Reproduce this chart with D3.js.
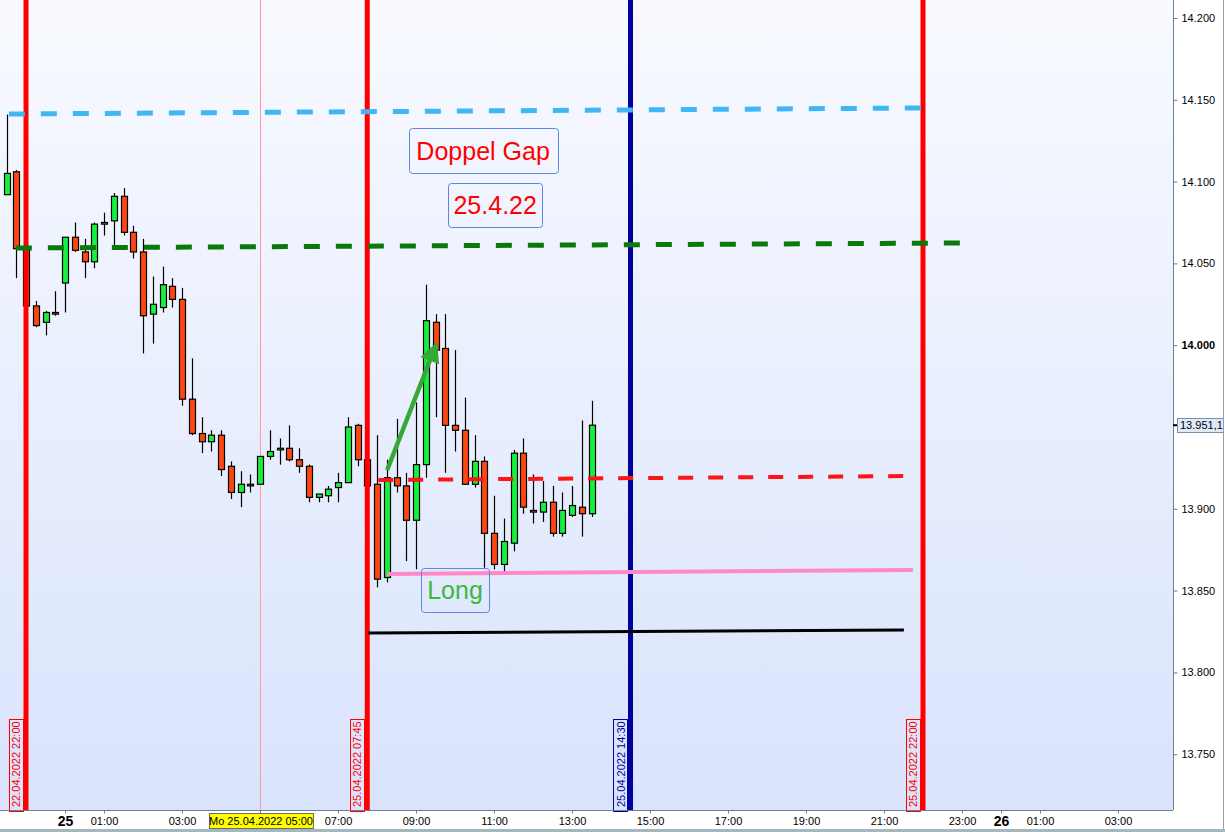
<!DOCTYPE html>
<html><head><meta charset="utf-8">
<script src="https://cdn.jsdelivr.net/npm/d3@7"></script>
<style>body{margin:0;background:#fff;} svg{display:block;font-family:"Liberation Sans",Arial,sans-serif;}</style>
</head><body><svg id="c" width="1225" height="832"></svg>
<script>
// ---- data: 15-minute candles, time in hours relative to 25.04.2022 00:00 ----
const times = [-1.5,-1.25,-1,-0.75,-0.5,-0.25,0,0.25,0.5,0.75,1,1.25,1.5,1.75,2,2.25,2.5,2.75,3,3.25,3.5,3.75,4,4.25,4.5,4.75,5,5.25,5.5,5.75,6,6.25,6.5,6.75,7,7.25,7.5,7.75,8,8.25,8.5,8.75,9,9.25,9.5,9.75,10,10.25,10.5,10.75,11,11.25,11.5,11.75,12,12.25,12.5,12.75,13,13.25,13.5];
const opens  = [14092,14106,14059,14024,14014,14020,14038,14066,14057,14051,14074,14076,14091,14069,14057,14019,14023,14036,14028,13967,13946,13941,13945,13926,13910,13915,13915,13932,13936,13937,13930,13926,13907,13908,13913,13916,13951,13930,13915,13858,13919,13914,13893,13927,14014,13998,13951,13948,13915,13929,13885,13866,13879,13934,13899,13898,13904,13885,13896,13901,13897];
const highs  = [14141,14107,14059,14027,14021,14033,14066,14075,14065,14075,14081,14093,14096,14073,14065,14042,14048,14041,14035,13992,13956,13948,13948,13929,13923,13921,13932,13948,13943,13951,13937,13927,13909,13914,13922,13956,13952,13930,13945,13930,13955,13922,13965,14037,14019,14019,13997,13968,13945,13932,13908,13894,13936,13943,13921,13917,13914,13910,13914,13954,13966];
const lows   = [14092,14041,14024,14011,14006,14018,14020,14057,14041,14047,14067,14060,14067,14053,13995,14001,14020,14023,13963,13945,13934,13935,13920,13906,13901,13910,13915,13930,13927,13929,13922,13904,13904,13904,13904,13916,13926,13914,13852,13855,13910,13868,13863,13919,13956,13922,13935,13915,13913,13864,13863,13860,13874,13897,13891,13892,13883,13883,13895,13883,13895];
const closes = [14105,14059,14024,14012,14020,14019,14066,14058,14051,14074,14075,14091,14069,14057,14018,14025,14037,14028,13967,13946,13941,13945,13924,13910,13915,13914,13932,13935,13937,13930,13926,13907,13909,13912,13916,13950,13930,13914,13857,13919,13914,13893,13927,14015,13997,13951,13948,13915,13929,13885,13866,13880,13934,13901,13898,13904,13885,13899,13902,13897,13951.1];

// vertical time markers
const vTimes  = [-1, 7.75, 14.5, 22];
const vLabels = ["22.04.2022 22:00","25.04.2022 07:45","25.04.2022 14:30","25.04.2022 22:00"];
// horizontal drawn lines: [t, price] start and end
const hLineStart = [[-1.44,14141.3],[-1.26,14059.4],[8.03,13917.6],[8.26,13860.2],[7.77,13824.1]];
const hLineEnd   = [[21.97,14145.0],[23.0,14062.5],[21.54,13920.0],[21.74,13862.6],[21.51,13825.9]];
// arrow
const arrowFrom = [8.26, 13923.7];
const arrowTo   = [9.54, 14001.9];
// text notes: label, time, price
const noteTexts = ["Doppel Gap","25.4.22","Long"];
const notePos   = [[10.72,14119.0],[11.03,14085.7],[10.0,13850.2]];
// axis ticks
const yTicks = [13750,13800,13850,13900,14000,14050,14100,14150,14200];
const xTicks = [0,1,3,5,7,9,11,13,15,17,19,21,23,24,25,27];
const xDomain = [-1.667, 28.41];
const yDomain = [13715.9, 14211];
const lastPrice = 13951.1;
const crossTime = 5;
const crossLabel = "Mo 25.04.2022 05:00";

// ---- styles ----
const plotR = 1173, plotB = 810;
const vColors = ["#ff0000","#ff0000","#00009c","#ff0000"];
const hStyles = [
  {c:"#41b6f5", w:5, d:"16,16"},
  {c:"#097a09", w:5, d:"16,16"},
  {c:"#ff1414", w:4, d:"15,15"},
  {c:"#ff88c6", w:4, d:null},
  {c:"#000000", w:3, d:null}
];
const noteStyles = [
  {c:"#ff0000", w:149, h:45, fs:25},
  {c:"#ff0000", w:94, h:44, fs:25},
  {c:"#3cb83c", w:68, h:44, fs:25}
];

const svg = d3.select("#c");
const x = d3.scaleLinear().domain(xDomain).range([0, plotR]);
const y = d3.scaleLinear().domain(yDomain).range([plotB, 0]);

const defs = svg.append("defs");
const grad = defs.append("linearGradient").attr("id","bg").attr("x1",0).attr("y1",0).attr("x2",0).attr("y2",1);
grad.append("stop").attr("offset","0%").attr("stop-color","#f8faff");
grad.append("stop").attr("offset","100%").attr("stop-color","#d9e3fc");
defs.append("clipPath").attr("id","clip").append("rect").attr("width",plotR).attr("height",plotB);

svg.append("rect").attr("width",1225).attr("height",832).attr("fill","#ffffff");
svg.append("rect").attr("width",plotR).attr("height",plotB).attr("fill","url(#bg)");

const plot = svg.append("g").attr("clip-path","url(#clip)");

// crosshair line
plot.append("line").attr("x1",Math.round(x(crossTime))+0.5).attr("x2",Math.round(x(crossTime))+0.5)
  .attr("y1",0).attr("y2",plotB).attr("stroke","#ff9a9a").attr("stroke-width",1);

// candles
const candles = times.map((t,i)=>({t, o:opens[i], h:highs[i], l:lows[i], c:closes[i]}));
const cg = plot.append("g");
cg.selectAll("line.w").data(candles).enter().append("line")
  .attr("x1",d=>Math.round(x(d.t))+0.5).attr("x2",d=>Math.round(x(d.t))+0.5)
  .attr("y1",d=>y(d.h)).attr("y2",d=>y(d.l)).attr("stroke","#000").attr("stroke-width",1.2);
cg.selectAll("rect").data(candles).enter().append("rect")
  .attr("x",d=>Math.round(x(d.t))-2.5).attr("width",6)
  .attr("y",d=>y(Math.max(d.o,d.c)))
  .attr("height",d=>Math.max(1, Math.abs(y(d.o)-y(d.c))))
  .attr("fill",d=>d.c>=d.o?"#14f23e":"#ff4612")
  .attr("stroke","#000").attr("stroke-width",1.2);

// vertical markers
vTimes.forEach((t,i)=>{
  plot.append("line").attr("x1",x(t)).attr("x2",x(t)).attr("y1",0).attr("y2",plotB)
    .attr("stroke",vColors[i]).attr("stroke-width",5);
});

// horizontal lines
hLineStart.forEach((s,i)=>{
  const e = hLineEnd[i], st = hStyles[i];
  const ln = plot.append("line").attr("x1",x(s[0])).attr("y1",y(s[1])).attr("x2",x(e[0])).attr("y2",y(e[1]))
    .attr("stroke",st.c).attr("stroke-width",st.w);
  if (st.d) ln.attr("stroke-dasharray",st.d);
});

// arrow
(function(){
  const p0=[x(arrowFrom[0]),y(arrowFrom[1])], p1=[x(arrowTo[0]),y(arrowTo[1])];
  const dx=p1[0]-p0[0], dy=p1[1]-p0[1], L=Math.hypot(dx,dy), ux=dx/L, uy=dy/L;
  const hl=20, hw=10;
  const bx=p1[0]-ux*hl, by=p1[1]-uy*hl;
  plot.append("line").attr("x1",p0[0]).attr("y1",p0[1]).attr("x2",bx+ux*4).attr("y2",by+uy*4)
    .attr("stroke","#36a836").attr("stroke-width",4.5);
  plot.append("path").attr("d",`M${p1[0]},${p1[1]}L${bx-uy*hw},${by+ux*hw}L${bx+uy*hw},${by-ux*hw}Z`)
    .attr("fill","#36a836");
})();

// notes
noteTexts.forEach((txt,i)=>{
  const st=noteStyles[i], cx=x(notePos[i][0]), cy=y(notePos[i][1]);
  plot.append("rect").attr("x",Math.round(cx-st.w/2)+0.5).attr("y",Math.round(cy-st.h/2)+0.5)
    .attr("width",st.w).attr("height",st.h).attr("rx",3)
    .attr("fill","none").attr("stroke","#5b87e0").attr("stroke-width",1);
  plot.append("text").attr("x",cx).attr("y",cy+st.fs*0.36).attr("text-anchor","middle")
    .attr("font-size",st.fs).attr("fill",st.c).text(txt);
});

// vertical marker labels
vTimes.forEach((t,i)=>{
  const lx = x(t);
  svg.append("rect").attr("x",Math.round(lx-17.5)+0.5).attr("y",719.5).attr("width",14).attr("height",92)
    .attr("fill","none").attr("stroke",vColors[i]).attr("stroke-width",1);
  svg.append("text").attr("transform",`translate(${lx-6},807) rotate(-90)`)
    .attr("font-size",11).attr("fill",vColors[i]).text(vLabels[i]);
});

// right axis
const yAxis = d3.axisRight(y).tickValues(yTicks).tickSize(4).tickPadding(4)
  .tickFormat(d=>d3.format(",")(d).replace(/,/g,"."));
const ya = svg.append("g").attr("transform",`translate(${plotR+0.5},0)`).call(yAxis);
ya.select(".domain").attr("stroke","#6f8090").attr("d",`M0,0V${plotB}`);
ya.selectAll(".tick line").attr("stroke","#6f8090");
ya.selectAll("text").attr("font-size",11).attr("font-family","Liberation Sans, Arial, sans-serif").attr("fill","#000")
  .attr("font-weight",d=>d===14000?"bold":"normal");

// last price box
const ly = y(lastPrice);
svg.append("line").attr("x1",plotR).attr("x2",plotR+5).attr("y1",ly).attr("y2",ly).attr("stroke","#000").attr("stroke-width",2);
svg.append("rect").attr("x",1177.5).attr("y",Math.round(ly-7)+0.5).attr("width",46).attr("height",14)
  .attr("fill","#dfe9f8").attr("stroke","#7890aa");
svg.append("text").attr("x",1180).attr("y",ly+4).attr("font-size",11).attr("fill","#000")
  .text(d3.format(".1f")(lastPrice).replace(".",",").replace(/^(\d+)(\d{3})/,"$1.$2"));

// bottom axis
const xAxis = d3.axisBottom(x).tickValues(xTicks).tickSize(3).tickPadding(4)
  .tickFormat(d=>{
    if (d===0) return "25";
    if (d===24) return "26";
    if (d===crossTime) return "";
    const hh = ((d%24)+24)%24;
    return (hh<10?"0":"")+hh+":00";
  });
const xa = svg.append("g").attr("transform",`translate(0,${plotB+0.5})`).call(xAxis);
xa.select(".domain").attr("stroke","#6f8090").attr("d",`M0,0H${plotR}`);
xa.selectAll(".tick line").attr("stroke","#6f8090");
xa.selectAll("text").attr("font-family","Liberation Sans, Arial, sans-serif").attr("fill","#000")
  .attr("font-size",d=>(d===0||d===24)?14:11)
  .attr("font-weight",d=>(d===0||d===24)?"bold":"normal")
  .attr("dy",d=>(d===0||d===24)?"0.62em":"0.71em");

// crosshair label
const cxp = x(crossTime);
svg.append("rect").attr("x",Math.round(cxp-51)+0.5).attr("y",813.5).attr("width",104).attr("height",15)
  .attr("fill","#ffff00").attr("stroke","#6a6a6a");
svg.append("text").attr("x",cxp+1).attr("y",825).attr("text-anchor","middle").attr("font-size",11)
  .attr("fill","#000").text(crossLabel);

// frame bits
svg.append("rect").attr("x",0).attr("y",829).attr("width",1225).attr("height",3).attr("fill","#a4b6be");
svg.append("line").attr("x1",1223.5).attr("x2",1223.5).attr("y1",0).attr("y2",829).attr("stroke","#8ea2ac");
</script></body></html>
